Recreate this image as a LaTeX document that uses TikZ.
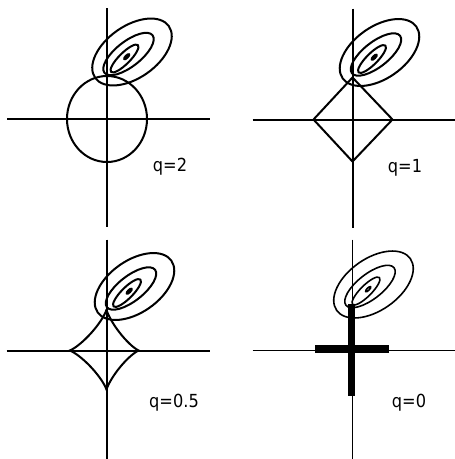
\documentclass[tikz,border=0pt]{standalone}
\usepackage{fontspec}
\setsansfont{DejaVu Sans}
\tikzset{
  every picture/.append style={line join=round},
  ax/.style={line width=2pt},
  axthin/.style={line width=1.3pt},
  lvl/.style={line width=2pt},
  lvlthin/.style={line width=1.6pt},
  ball/.style={line width=2pt},
  bar/.style={line width=#1, line cap=butt},
  lab/.style={font=\sffamily\fontsize{18}{18}\selectfont, xscale=0.9, inner sep=0pt},
}

\begin{document}
\begin{tikzpicture}[x=1pt,y=-1pt]
\useasboundingbox (0,0) rectangle (455,459);

% ---------------- axes ----------------
\foreach \cx/\cy/\s in {107/119/ax, 352.5/119.5/ax, 106.5/350.5/ax, 352.7/350.7/axthin}{
  \draw[\s] (\cx,\cy-111) -- (\cx,\cy+108);
  \draw[\s] (\cx-100,\cy) -- (\cx+103,\cy);
}

% ---------------- error contours ----------------
\foreach \ex/\ey/\s in {132/52/lvl, 379.5/52.5/lvl, 134.5/286.5/lvl, 373.5/284.5/lvlthin}{
  \draw[\s] (\ex,\ey) circle[x radius=45, y radius=26, rotate=35];
  \draw[\s] (\ex-3.5,\ey+2) circle[x radius=30.5, y radius=12.5, rotate=38];
  \draw[\s] (\ex-7.5,\ey+6.5) circle[x radius=19, y radius=5.5, rotate=45];
  \draw[\s] (\ex-5.3,\ey+4.7) circle[x radius=3.5, y radius=1.2, rotate=45];
}

% ---------------- constraint regions ----------------
% q=2
\draw[ball] (107,119) circle[x radius=40, y radius=43];
% q=1
\draw[ball] (313.5,119.5) -- (352.5,77.5) -- (392.5,119.5) -- (352.5,161.5) -- cycle;
% q=0.5
\draw[ball, variable=\t, samples=30]
     plot[domain=0:90]    ({106.5+32.4*(abs(cos(\t))+0.0001)^2.5}, {350.5-41*(abs(sin(\t))+0.0001)^2.5})
  -- plot[domain=90:180]  ({106.5-37*(abs(cos(\t))+0.0001)^2.5}, {350.5-41*(abs(sin(\t))+0.0001)^2.5})
  -- plot[domain=180:270] ({106.5-37*(abs(cos(\t))+0.0001)^2.5}, {350.5+39.4*(abs(sin(\t))+0.0001)^2.5})
  -- plot[domain=270:360] ({106.5+32.4*(abs(cos(\t))+0.0001)^2.5}, {350.5+39.4*(abs(sin(\t))+0.0001)^2.5})
  -- cycle;
% q=0
\draw[bar=7pt] (351.7,304) -- (351.7,396);
\draw[bar=8pt] (315,349.3) -- (389,349.3);

% ---------------- labels ----------------
\node[lab] (lab2) at (170,167) {q=2};
\node[lab] (lab1) at (405,168) {q=1};
\node[lab] (labhalf) at (174,403) {q=0.5};
\node[lab] (lab0) at (409,403) {q=0};

\end{tikzpicture}
\end{document}
